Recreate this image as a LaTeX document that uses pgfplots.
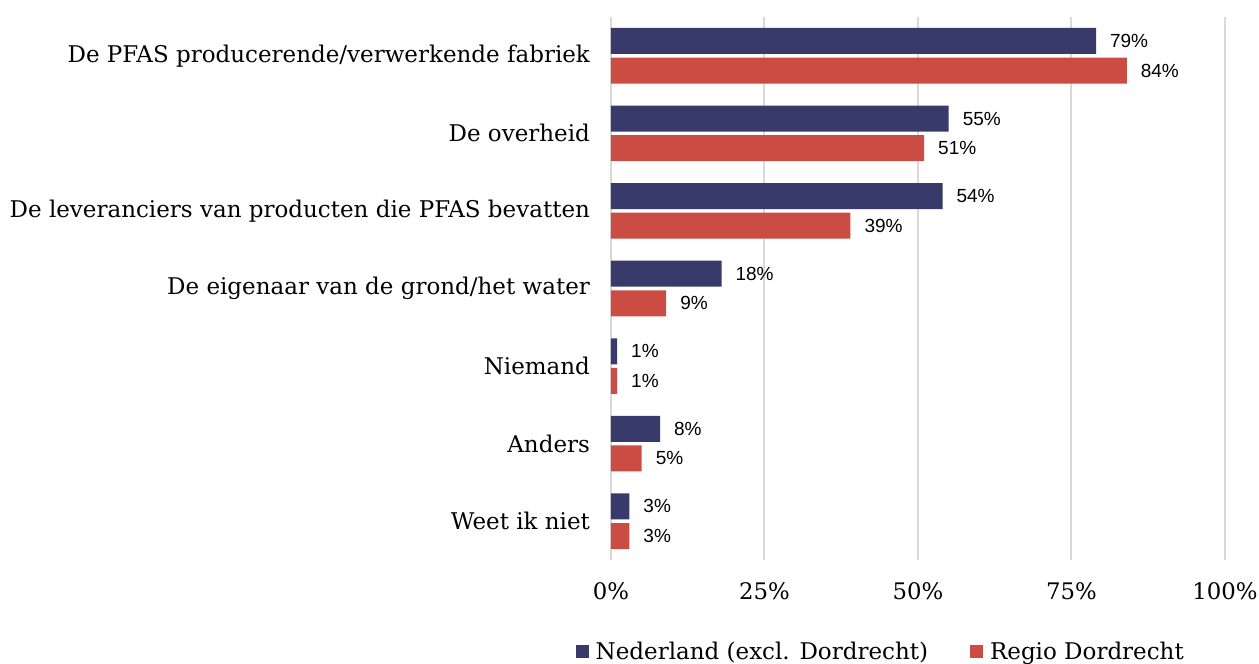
\documentclass[border=0pt]{standalone}
\usepackage{pgfplots}
\pgfplotsset{compat=1.18}
\usepackage{fontspec}
\setmainfont{DejaVu Serif}
\newfontfamily\lblfont{Liberation Sans}
\definecolor{cblue}{HTML}{383B6A}
\definecolor{cred}{HTML}{CB4C43}
\definecolor{cgrid}{HTML}{D9D9D9}
\begin{document}
\begin{tikzpicture}
\begin{axis}[
  at={(0,0)}, anchor=south west,
  scale only axis, width=307pt, height=271.5pt,
  xbar, bar width=13pt,
  xmin=0, xmax=100, ymin=-0.5, ymax=6.5,
  y dir=reverse,
  xtick={0,25,50,75,100},
  xticklabel={\pgfmathprintnumber{\tick}\%},
  /pgf/number format/assume math mode=true,
  ytick={0,...,6},
  yticklabels={De PFAS producerende/verwerkende fabriek, De overheid, De leveranciers van producten die PFAS bevatten, De eigenaar van de grond/het water, Niemand, Anders, Weet ik niet},
  yticklabel style={font=\fontsize{11.5}{13}\selectfont},
  xticklabel style={font=\fontsize{11.4}{13}\selectfont},
  xtick pos=bottom, ytick pos=left,
  major tick length=0pt,
  y tick label style={xshift=-7pt},
  x tick label style={yshift=-8pt},
  axis line style={draw=none},
  xmajorgrids, grid style={cgrid, line width=1pt},
  nodes near coords={\pgfmathprintnumber{\pgfplotspointmeta}\%},
  nodes near coords style={font=\lblfont\fontsize{9.5}{11}\selectfont, anchor=west, xshift=3.5pt, text=black},
  legend style={at={(0.441,-0.169)}, anchor=center, draw=none, legend columns=2,
    font=\fontsize{11.5}{13}\selectfont,
    /tikz/every odd column/.append style={column sep=1.5pt},
    /tikz/every even column/.append style={column sep=19pt}},
  legend image code/.code={\fill[#1] (0pt,-3.25pt) rectangle (6.5pt,3.25pt);},
]
\addplot[fill=cblue, draw=none, bar shift=7.4pt] coordinates {(79,0) (55,1) (54,2) (18,3) (1,4) (8,5) (3,6)};
\addplot[fill=cred, draw=none, bar shift=-7.4pt] coordinates {(84,0) (51,1) (39,2) (9,3) (1,4) (5,5) (3,6)};
\legend{Nederland (excl. Dordrecht), Regio Dordrecht}
\end{axis}
\pgfresetboundingbox
\useasboundingbox (-305.5pt,-52pt) rectangle (324pt,280pt);
\end{tikzpicture}
\end{document}
